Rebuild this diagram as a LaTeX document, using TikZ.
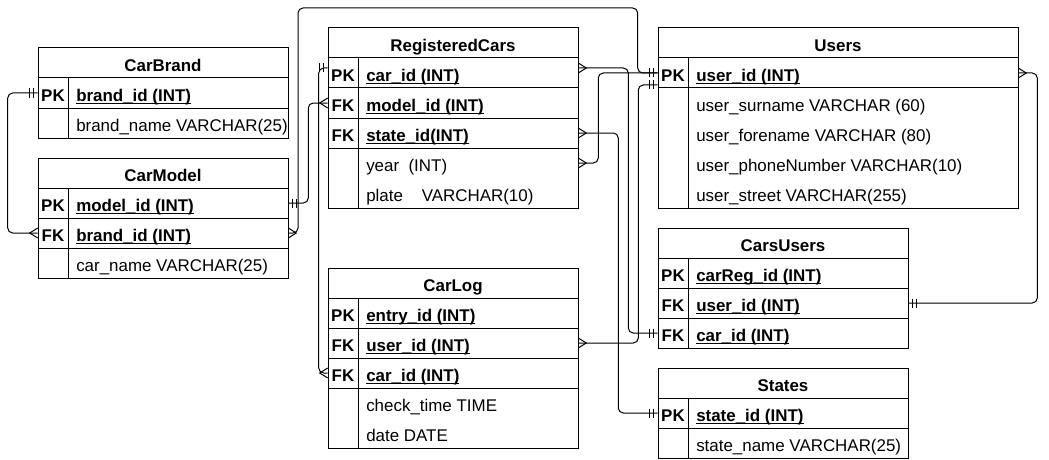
\documentclass[tikz,border=0pt]{standalone}
\usepackage{fontspec}
\setmainfont{Liberation Sans}
\newsavebox\erkeybox
\newcommand\erfont{\fontsize{12.7}{15}\selectfont}
\newcommand\keyf[1]{\sbox\erkeybox{\bfseries #1}\rlap{\rule[-2.1pt]{\wd\erkeybox}{0.6pt}}\usebox\erkeybox}
\newcommand\errow[6]{%
  \node[rowbox, minimum width=#4*0.75pt] (#1) at ({#2+#4/2},{#3+15}) {};
  \node[keytxt] at ({#2+15},{#3+23.2}) {#5};
  \node[fldtxt] at ({#2+38},{#3+23.2}) {#6};
}
\newcommand\mone[2]{\begin{scope}[shift={(#1)}, xscale=#2]\draw[mk] (4.5,-4.5) -- (4.5,4.5) (8,-4.5) -- (8,4.5);\end{scope}}
\newcommand\many[2]{\begin{scope}[shift={(#1)}, xscale=#2]\draw[mk] (0,-5) -- (8,0) -- (0,5);\end{scope}}
\begin{document}
\begin{tikzpicture}[x=0.75pt,y=-0.75pt,
  tblbox/.style={draw, line width=0.75pt, rectangle, inner sep=0, fill=white},
  tbl/.style={line width=0.75pt},
  rowbox/.style={rectangle, inner sep=0, minimum height=22.5pt},
  keytxt/.style={anchor=base, inner sep=0, font=\erfont\bfseries},
  fldtxt/.style={anchor=base west, inner sep=0, font=\erfont},
  hdtxt/.style={anchor=base, inner sep=0, font=\erfont\bfseries},
  conn/.style={line width=0.75pt, rounded corners=3.75pt},
  mk/.style={line width=0.75pt}]
\useasboundingbox (0,0) rectangle (1049,460);
\fill[white] (0,0) rectangle (1049,460);

% CarBrand
\node[tblbox, minimum width=187.5pt, minimum height=67.5pt] (cb) at (163,93) {};
\node[hdtxt] (cb-title) at (163,71.2) {CarBrand};
\draw[tbl] (38,78) -- (288,78) (38,108) -- (288,108) (68,78) -- (68,138);
\errow{cb-pk}{38}{78}{250}{PK}{\keyf{brand\_id (INT)}}
\errow{cb-name}{38}{108}{250}{}{brand\_name VARCHAR(25)}

% CarModel
\node[tblbox, minimum width=187.5pt, minimum height=90pt] (cm) at (163,218) {};
\node[hdtxt] (cm-title) at (163,181.2) {CarModel};
\draw[tbl] (38,188) -- (288,188) (38,218) -- (288,218) (38,248) -- (288,248) (68,188) -- (68,278);
\errow{cm-pk}{38}{188}{250}{PK}{\keyf{model\_id (INT)}}
\errow{cm-fk}{38}{218}{250}{FK}{\keyf{brand\_id (INT)}}
\errow{cm-name}{38}{248}{250}{}{car\_name VARCHAR(25)}

% RegisteredCars
\node[tblbox, minimum width=187.5pt, minimum height=135pt] (rc) at (453,118) {};
\node[hdtxt] (rc-title) at (453,51.2) {RegisteredCars};
\draw[tbl] (328,58) -- (578,58) (328,88) -- (578,88) (328,118) -- (578,118) (328,148) -- (578,148) (358,58) -- (358,208);
\errow{rc-pk}{328}{58}{250}{PK}{\keyf{car\_id (INT)}}
\errow{rc-model}{328}{88}{250}{FK}{\keyf{model\_id (INT)}}
\errow{rc-state}{328}{118}{250}{FK}{\keyf{state\_id(INT)}}
\errow{rc-year}{328}{148}{250}{}{year\ \ (INT)}
\errow{rc-plate}{328}{178}{250}{}{plate\ \ \ \ VARCHAR(10)}

% Users
\node[tblbox, minimum width=270pt, minimum height=135pt] (us) at (838,118) {};
\node[hdtxt] (us-title) at (838,51.2) {Users};
\draw[tbl] (658,58) -- (1018,58) (658,88) -- (1018,88) (688,58) -- (688,208);
\errow{us-pk}{658}{58}{360}{PK}{\keyf{user\_id (INT)}}
\errow{us-sur}{658}{88}{360}{}{user\_surname VARCHAR (60)}
\errow{us-fore}{658}{118}{360}{}{user\_forename VARCHAR (80)}
\errow{us-phone}{658}{148}{360}{}{user\_phoneNumber VARCHAR(10)}
\errow{us-street}{658}{178}{360}{}{user\_street VARCHAR(255)}

% CarsUsers
\node[tblbox, minimum width=187.5pt, minimum height=90pt] (cu) at (783,288) {};
\node[hdtxt] (cu-title) at (783,251.2) {CarsUsers};
\draw[tbl] (658,258) -- (908,258) (658,288) -- (908,288) (658,318) -- (908,318) (688,258) -- (688,348);
\errow{cu-pk}{658}{258}{250}{PK}{\keyf{carReg\_id (INT)}}
\errow{cu-user}{658}{288}{250}{FK}{\keyf{user\_id (INT)}}
\errow{cu-car}{658}{318}{250}{FK}{\keyf{car\_id (INT)}}

% States
\node[tblbox, minimum width=187.5pt, minimum height=67.5pt] (st) at (783,413) {};
\node[hdtxt] (st-title) at (783,391.2) {States};
\draw[tbl] (658,398) -- (908,398) (658,428) -- (908,428) (688,398) -- (688,458);
\errow{st-pk}{658}{398}{250}{PK}{\keyf{state\_id (INT)}}
\errow{st-name}{658}{428}{250}{}{state\_name VARCHAR(25)}

% CarLog
\node[tblbox, minimum width=187.5pt, minimum height=135pt] (cl) at (453,358) {};
\node[hdtxt] (cl-title) at (453,291.2) {CarLog};
\draw[tbl] (328,298) -- (578,298) (328,328) -- (578,328) (328,358) -- (578,358) (328,388) -- (578,388) (358,298) -- (358,448);
\errow{cl-pk}{328}{298}{250}{PK}{\keyf{entry\_id (INT)}}
\errow{cl-user}{328}{328}{250}{FK}{\keyf{user\_id (INT)}}
\errow{cl-car}{328}{358}{250}{FK}{\keyf{car\_id (INT)}}
\errow{cl-time}{328}{388}{250}{}{check\_time TIME}
\errow{cl-date}{328}{418}{250}{}{date DATE}

% Connectors
\draw[conn] (cb-pk.west) -- ++(-30,0) |- (cm-fk.west);
\mone{cb-pk.west}{-1}\many{cm-fk.west}{-1}

\draw[conn] (cm-pk.east) -- ++(20,0) |- (rc-model.west);
\mone{cm-pk.east}{1}\many{rc-model.west}{-1}

\draw[conn] (cm-fk.east) -| (298,8) -| ([xshift=-15pt]us-pk.west) -- (us-pk.west);
\many{cm-fk.east}{1}\mone{us-pk.west}{-1}

\draw[conn] ([yshift=3.75pt]rc-pk.west) -- ++(-9,0) |- (cl-car.west);
\mone{[yshift=3.75pt]rc-pk.west}{-1}\many{cl-car.west}{-1}

\draw[conn] ([yshift=3.75pt]rc-pk.east) -- ++(50,0) |- (cu-car.west);
\many{[yshift=3.75pt]rc-pk.east}{1}\mone{cu-car.west}{-1}

\draw[conn] (rc-year.east) -- ++(20,0) |- (us-pk.west);
\many{rc-year.east}{1}

\draw[conn] (cl-user.east) -- ++(60,0) |- ([yshift=-9pt]us-pk.west);
\many{cl-user.east}{1}\mone{[yshift=-9pt]us-pk.west}{-1}

\draw[conn] (rc-state.east) -- ++(40,0) |- (st-pk.west);
\many{rc-state.east}{1}\mone{st-pk.west}{-1}

\draw[conn] (us-pk.east) -- ++(19,0) |- (cu-user.east);
\many{us-pk.east}{1}\mone{cu-user.east}{1}
\end{tikzpicture}
\end{document}
